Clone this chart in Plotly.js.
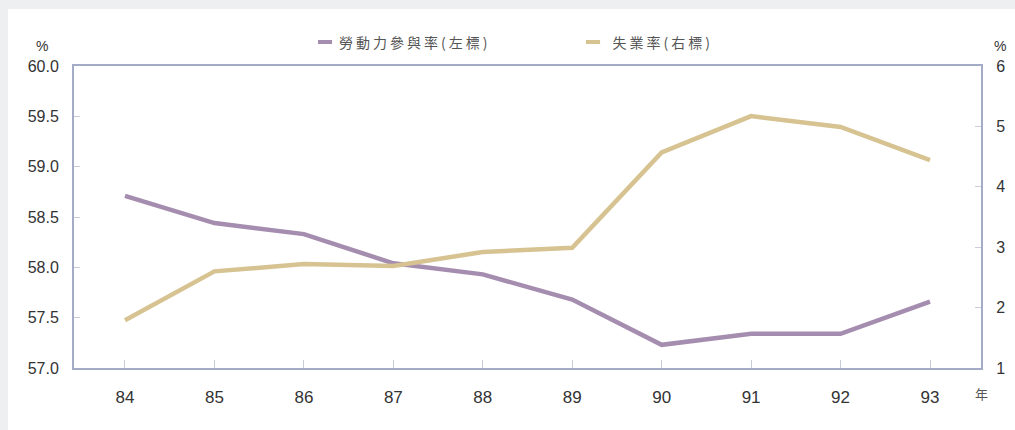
<!DOCTYPE html>
<html>
<head>
<meta charset="utf-8">
<script src="https://cdn.plot.ly/plotly-3.0.1.min.js"></script>
<style>
html,body{margin:0;padding:0;background:#eeeff1;}
#chart{position:absolute;left:8px;top:9px;width:1007px;height:421px;background:#fff;}
.annotation-text.lg{letter-spacing:3px;}
</style>
</head>
<body>
<div id="chart"></div>
<script>
var years = ['84','85','86','87','88','89','90','91','92','93'];
var laborRate = [58.71, 58.44, 58.33, 58.04, 57.93, 57.68, 57.23, 57.34, 57.34, 57.66];
var unempRate = [1.79, 2.60, 2.72, 2.69, 2.92, 2.99, 4.57, 5.17, 4.99, 4.44];
var seriesNames = ['勞動力參與率(左標)', '失業率(右標)'];
var leftTicks = [57.0, 57.5, 58.0, 58.5, 59.0, 59.5, 60.0];
var rightTicks = [1, 2, 3, 4, 5, 6];

var purple = '#a58db0';
var gold = '#d6c391';
var frame = '#a3abc6';
var tickCol = '#c9cdda';
var xNum = years.map(Number);

var traces = [
  {x: xNum, y: laborRate, name: seriesNames[0], type: 'scatter', mode: 'lines',
   line: {color: purple, width: 4.5}, yaxis: 'y', showlegend: false, hoverinfo: 'x+y'},
  {x: xNum, y: unempRate, name: seriesNames[1], type: 'scatter', mode: 'lines',
   line: {color: gold, width: 4.5}, yaxis: 'y2', showlegend: false, hoverinfo: 'x+y'}
];

var tickFont = {family: 'Liberation Sans, Arial, sans-serif', size: 16, color: '#333'};

var layout = {
  width: 1007, height: 421,
  margin: {l: 66, r: 34, t: 57, b: 62},
  paper_bgcolor: '#ffffff', plot_bgcolor: '#ffffff',
  showlegend: false,
  xaxis: {
    range: [83.43, 93.57], tickvals: xNum, ticktext: years,
    showgrid: false, zeroline: false,
    showline: true, linecolor: frame, linewidth: 2, mirror: true,
    ticks: 'inside', ticklen: 8, tickcolor: tickCol, tickwidth: 1,
    tickfont: {family: tickFont.family, size: 17, color: '#333'},
    ticklabelstandoff: 13
  },
  yaxis: {
    range: [57.0, 60.0], tickvals: leftTicks, tickformat: '.1f',
    showgrid: false, zeroline: false,
    showline: true, linecolor: frame, linewidth: 2, mirror: true,
    ticks: 'inside', ticklen: 6, tickcolor: tickCol, tickwidth: 1,
    tickfont: tickFont, ticklabelstandoff: 10
  },
  yaxis2: {
    range: [1, 6], tickvals: rightTicks, overlaying: 'y', side: 'right',
    showgrid: false, zeroline: false,
    showline: true, linecolor: frame, linewidth: 2,
    ticks: 'inside', ticklen: 6, tickcolor: tickCol, tickwidth: 1,
    tickfont: tickFont, ticklabelstandoff: 10
  },
  shapes: [
    {type: 'line', xref: 'paper', yref: 'paper', x0: 0.269, x1: 0.2845, y0: 1.0795, y1: 1.0795,
     line: {color: purple, width: 4}},
    {type: 'line', xref: 'paper', yref: 'paper', x0: 0.5645, x1: 0.580, y0: 1.0795, y1: 1.0795,
     line: {color: gold, width: 4}}
  ],
  annotations: [
    {xref: 'paper', yref: 'paper', x: 0.3065, y: 1.0795, xanchor: 'left', yanchor: 'middle',
     text: seriesNames[0], showarrow: false,
     font: {family: 'Noto Sans CJK TC', size: 14, color: '#555'}},
    {xref: 'paper', yref: 'paper', x: 0.6032, y: 1.0795, xanchor: 'left', yanchor: 'middle',
     text: seriesNames[1], showarrow: false,
     font: {family: 'Noto Sans CJK TC', size: 14, color: '#555'}},
    {xref: 'paper', yref: 'paper', x: -0.0353, y: 1.066, xanchor: 'center', yanchor: 'middle',
     text: '%', showarrow: false, font: {family: tickFont.family, size: 14, color: '#333'}},
    {xref: 'paper', yref: 'paper', x: 1.021, y: 1.066, xanchor: 'center', yanchor: 'middle',
     text: '%', showarrow: false, font: {family: tickFont.family, size: 14, color: '#333'}},
    {xref: 'paper', yref: 'paper', x: 1.0011, y: -0.0828, xanchor: 'center', yanchor: 'middle',
     text: '年', showarrow: false, font: {family: 'Noto Sans CJK TC', size: 13, color: '#555'}}
  ]
};

Plotly.newPlot('chart', traces, layout, {displayModeBar: false, staticPlot: true}).then(function(){
  var anns = document.querySelectorAll('#chart .annotation-text');
  for (var i = 0; i < 2 && i < anns.length; i++) { anns[i].classList.add('lg'); }
});
</script>
</body>
</html>
